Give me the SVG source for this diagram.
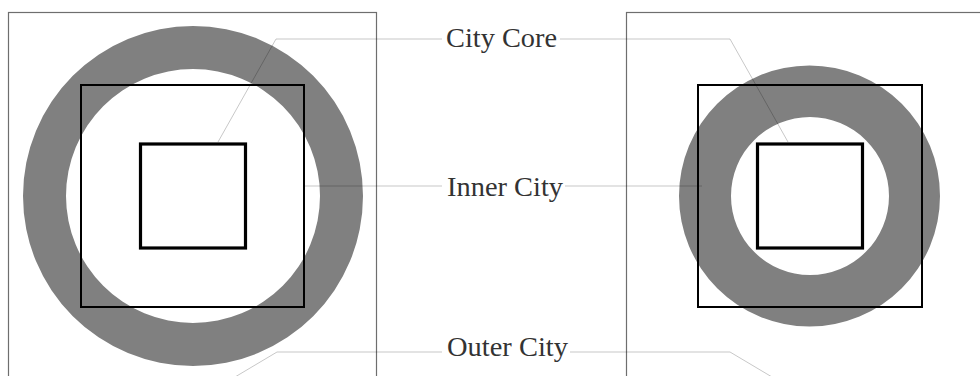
<svg xmlns="http://www.w3.org/2000/svg" width="980" height="376" viewBox="0 0 980 376">
<style>
.frame{fill:none;stroke:#6e6e6e;stroke-width:1.2}
.ring{fill:#808080;fill-rule:evenodd}
.sq1{fill:none;stroke:#000;stroke-width:2}
.sq2{fill:none;stroke:#000;stroke-width:3.2}
.lead{fill:none;stroke:#000;stroke-opacity:0.22;stroke-width:1}
.lbl{font-family:"Liberation Serif","DejaVu Serif",serif;font-size:28px;fill:#333}
</style>
<rect width="980" height="376" fill="#fff"/>
<g id="left-panel">
<rect class="frame" x="8.5" y="12.5" width="368" height="380"/>
<path class="ring" d="M23,196a170,170 0 1,0 340,0a170,170 0 1,0 -340,0Z M66,196a127,127 0 1,0 254,0a127,127 0 1,0 -254,0Z"/>
<rect class="sq1" x="81" y="85" width="223" height="222"/>
<rect class="sq2" x="140.5" y="144" width="105" height="104"/>
</g>
<g id="right-panel">
<rect class="frame" x="626.5" y="12.5" width="380" height="380"/>
<path class="ring" d="M679,196a130.5,130.5 0 1,0 261,0a130.5,130.5 0 1,0 -261,0Z M731,196a79,79 0 1,0 158,0a79,79 0 1,0 -158,0Z"/>
<rect class="sq1" x="698" y="85" width="224" height="222"/>
<rect class="sq2" x="757.5" y="144" width="105" height="104"/>
</g>
<g id="connectors">
<polyline class="lead" points="218,142 276,39 442,39"/>
<polyline class="lead" points="560,39 730,39 788,142"/>
<polyline class="lead" points="304,186 442,186"/>
<polyline class="lead" points="565,186 702,186"/>
<polyline class="lead" points="235,377 277,352 442,352"/>
<polyline class="lead" points="570,352 730,352 772,377"/>
</g>
<g id="label-city-core"><text class="lbl" x="446" y="47" textLength="111" lengthAdjust="spacingAndGlyphs">City Core</text></g>
<g id="label-inner-city"><text class="lbl" x="447" y="196" textLength="116" lengthAdjust="spacingAndGlyphs">Inner City</text></g>
<g id="label-outer-city"><text class="lbl" x="447" y="356" textLength="121" lengthAdjust="spacingAndGlyphs">Outer City</text></g>
</svg>
